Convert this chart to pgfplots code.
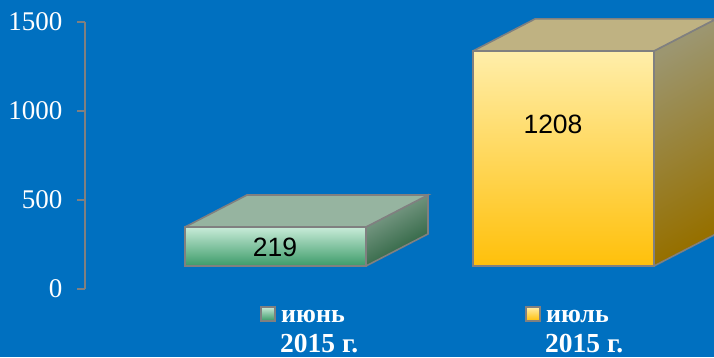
\documentclass[border=0pt]{standalone}
\usepackage{pgfplots}
\pgfplotsset{compat=1.18}
\usepackage{fontspec}
\setmainfont{Liberation Serif}
\newfontfamily\sansf{Liberation Sans}
\definecolor{bg}{HTML}{0070C0}
\definecolor{edge}{HTML}{808080}
\definecolor{gfronttop}{HTML}{C8EBD8}
\definecolor{gfrontbot}{HTML}{3C9B69}
\definecolor{gtop}{HTML}{96B4A0}
\definecolor{gsidea}{HTML}{8AA594}
\definecolor{gsideb}{HTML}{1F5A35}
\definecolor{yfronttop}{HTML}{FFEEAA}
\definecolor{yfrontbot}{HTML}{FFC00A}
\definecolor{ytop}{HTML}{BFB282}
\definecolor{ysidea}{HTML}{9C9670}
\definecolor{ysideb}{HTML}{967000}
\begin{document}
\begin{tikzpicture}[x=1pt,y=1pt]
\fill[bg] (0,0) rectangle (714,357);
\useasboundingbox (0,0) rectangle (714,357);
\begin{axis}[
  at={(85pt,68pt)}, anchor=south west,
  scale only axis, width=629pt, height=267pt,
  xmin=85, xmax=714, ymin=0, ymax=1500,
  clip=false,
  axis x line=none,
  axis y line=left,
  axis line style={edge,line width=1.8pt,-},
  ytick={0,500,1000,1500},
  xtick=\empty,
  major tick length=8pt,
  tick style={edge,line width=1.5pt},
  tick align=outside,
  /pgf/number format/assume math mode=true,
  /pgf/number format/1000 sep={},
  yticklabel style={font=\fontsize{27}{27}\selectfont,text=white,xshift=-11pt},
]
% June 2015: side, top, front
\addplot[draw=edge,line width=1.6pt,yshift=23pt,top color=gsidea,bottom color=gsideb,shading angle=30]
  coordinates {(366,0)(428,180)(428,399)(366,219)(366,0)};
\addplot[draw=edge,line width=1.6pt,yshift=23pt,fill=gtop]
  coordinates {(185,219)(366,219)(428,399)(247,399)(185,219)};
\addplot[ybar,bar width=181pt,bar shift=0pt,draw=edge,line width=1.6pt,yshift=23pt,top color=gfronttop,bottom color=gfrontbot]
  coordinates {(275.5,219)};
% July 2015: side, top, front
\addplot[draw=edge,line width=1.6pt,yshift=23pt,top color=ysidea,bottom color=ysideb,shading angle=30]
  coordinates {(654,0)(716,180)(716,1388)(654,1208)(654,0)};
\addplot[draw=edge,line width=1.6pt,yshift=23pt,fill=ytop]
  coordinates {(473,1208)(654,1208)(716,1388)(535,1388)(473,1208)};
\addplot[ybar,bar width=181pt,bar shift=0pt,draw=edge,line width=1.6pt,yshift=23pt,top color=yfronttop,bottom color=yfrontbot]
  coordinates {(563.5,1208)};
% value labels
\node[font=\sansf\fontsize{26.5}{26.5}\selectfont,text=black] at (axis cs:275,236) {219};
\node[font=\sansf\fontsize{26.5}{26.5}\selectfont,text=black] at (axis cs:553,926) {1208};
\end{axis}
% legend
\draw[edge,line width=2pt,top color=gfronttop,bottom color=gfrontbot] (260.5,36.5) rectangle (274.5,50);
\draw[edge,line width=2pt,top color=yfronttop,bottom color=yfrontbot] (526,36.5) rectangle (540,50);
\node[anchor=base west,inner sep=0pt,text=white,font=\bfseries\fontsize{26}{26}\selectfont] at (281,35) {июнь};
\node[anchor=base west,inner sep=0pt,text=white,font=\bfseries\fontsize{27.5}{27.5}\selectfont] at (280,5) {2015 г.};
\node[anchor=base west,inner sep=0pt,text=white,font=\bfseries\fontsize{26}{26}\selectfont] at (546,35) {июль};
\node[anchor=base west,inner sep=0pt,text=white,font=\bfseries\fontsize{27.5}{27.5}\selectfont] at (545,5) {2015 г.};
\end{tikzpicture}
\end{document}
